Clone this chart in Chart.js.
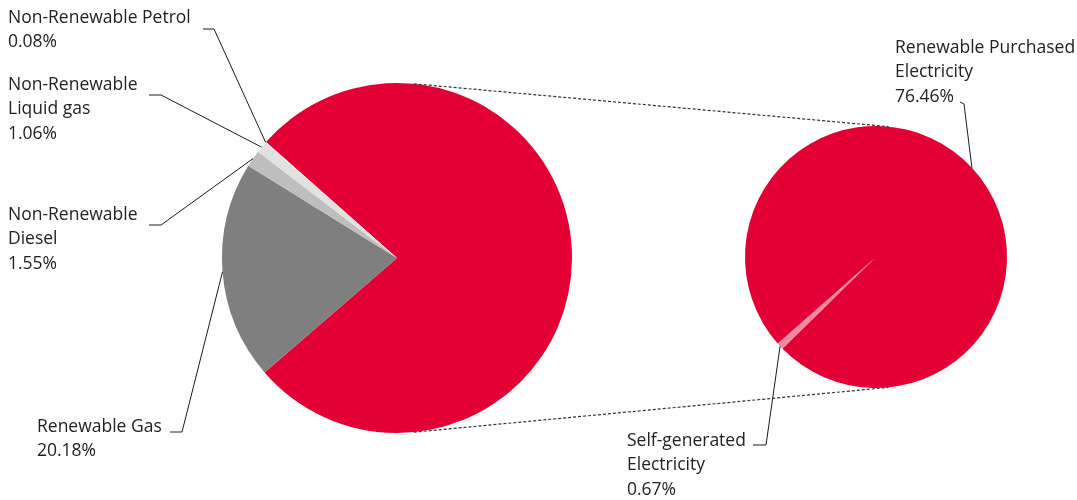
<!DOCTYPE html>
<html>
<head>
<meta charset="utf-8">
<script src="https://cdn.jsdelivr.net/npm/chart.js@4.4.1/dist/chart.umd.min.js"></script>
<style>
  html, body { margin: 0; padding: 0; background: #fff; }
  #wrap { position: relative; width: 1077px; height: 500px; }
  #wrap canvas { position: absolute; left: 0; top: 0; }
</style>
</head>
<body>
<div id="wrap">
  <canvas id="mainPie" width="1077" height="500"></canvas>
  <canvas id="subPie" width="1077" height="500"></canvas>
</div>
<script>
// breakdown of electricity (right pie)
const subLabels = ["Self-generated Electricity", "Renewable Purchased Electricity"];
const subValues = [0.67, 76.46];
const subColors = ["#f28aa2", "#e30034"];

// main pie, first slice is all electricity
const mainLabels = ["Electricity", "Renewable Gas", "Non-Renewable Diesel", "Non-Renewable Liquid gas", "Non-Renewable Petrol"];
const mainValues = [subValues[0] + subValues[1], 20.18, 1.55, 1.06, 0.08];
const mainColors = ["#e30034", "#7f7f7f", "#bebebe", "#e1e1e1", "#f3f3f3"];

const FONT = '17.5px "Open Sans", Lato, sans-serif';
const LINE_H = 24.5;

// callout text + where the leader line bends
const mainCallouts = [
    { index: 4, lines: ["Non-Renewable Petrol", "0.08%"], x: 8, y: 18, bend: [[203, 29], [214, 29]] },
    { index: 3, lines: ["Non-Renewable", "Liquid gas", "1.06%"], x: 8, y: 85, bend: [[149, 95], [161, 95]] },
    { index: 2, lines: ["Non-Renewable", "Diesel", "1.55%"], x: 8, y: 215, bend: [[149, 225], [161, 225]] },
    { index: 1, lines: ["Renewable Gas", "20.18%"], x: 37, y: 427, bend: [[170, 432], [182, 432]] },
];
const subCallouts = [
    { index: 0, lines: ["Self-generated", "Electricity", "0.67%"], x: 627, y: 441, bend: [[753, 445], [766, 445]] },
    { index: 1, lines: ["Renewable Purchased", "Electricity", "76.46%"], x: 895, y: 48, bend: [[960, 102], [964, 104]] },
];

function edgePoint(arc) {
    const mid = (arc.startAngle + arc.endAngle) / 2;
    return [arc.x + arc.outerRadius * Math.cos(mid), arc.y + arc.outerRadius * Math.sin(mid)];
}

function drawCallouts(ctx, arcs, callouts) {
    ctx.save();
    ctx.font = FONT;
    ctx.fillStyle = "#222";
    ctx.textBaseline = "middle";
    ctx.strokeStyle = "#1a1a1a";
    ctx.lineWidth = 1;
    callouts.forEach((c) => {
        c.lines.forEach((t, i) => ctx.fillText(t, c.x, c.y + i * LINE_H));
        const end = edgePoint(arcs[c.index]);
        ctx.beginPath();
        ctx.moveTo(c.bend[0][0], c.bend[0][1]);
        ctx.lineTo(c.bend[1][0], c.bend[1][1]);
        ctx.lineTo(end[0], end[1]);
        ctx.stroke();
    });
    ctx.restore();
}

const noLegend = {
    legend: { display: false },
    tooltip: { enabled: false },
};

const mainChart = new Chart(document.getElementById("mainPie"), {
    type: "pie",
    data: {
        labels: mainLabels,
        datasets: [{ data: mainValues, backgroundColor: mainColors, borderWidth: 0 }],
    },
    options: {
        responsive: false,
        animation: false,
        rotation: 311.5,
        layout: { padding: { left: 222, right: 505, top: 83, bottom: 67 } },
        plugins: noLegend,
    },
});

const overlay = {
    id: "overlay",
    afterDraw(chart) {
        const ctx = chart.ctx;
        const mainArcs = mainChart.getDatasetMeta(0).data;
        const subArcs = chart.getDatasetMeta(0).data;
        const m = mainArcs[0];
        const s = subArcs[0];

        // dashed connectors between the two pies
        ctx.save();
        ctx.setLineDash([3, 2]);
        ctx.strokeStyle = "#333";
        ctx.lineWidth = 1.2;
        [-1, 1].forEach((sign) => {
            const a = (sign * 84.5 * Math.PI) / 180;
            ctx.beginPath();
            ctx.moveTo(m.x + m.outerRadius * Math.cos(a), m.y + m.outerRadius * Math.sin(a));
            ctx.lineTo(s.x + s.outerRadius * Math.cos(a), s.y + s.outerRadius * Math.sin(a));
            ctx.stroke();
        });
        ctx.restore();

        drawCallouts(ctx, mainArcs, mainCallouts);
        drawCallouts(ctx, subArcs, subCallouts);
    },
};

const subChart = new Chart(document.getElementById("subPie"), {
    type: "pie",
    data: {
        labels: subLabels,
        datasets: [{ data: subValues, backgroundColor: subColors, borderWidth: 0 }],
    },
    options: {
        responsive: false,
        animation: false,
        rotation: 225.5,
        layout: { padding: { left: 745, right: 70, top: 126, bottom: 112 } },
        plugins: noLegend,
    },
    plugins: [overlay],
});
</script>
</body>
</html>
